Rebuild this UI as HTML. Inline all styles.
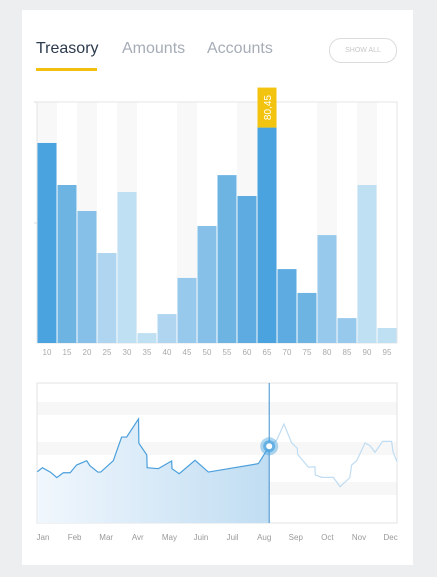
<!DOCTYPE html>
<html><head><meta charset="utf-8">
<style>
body{margin:0;width:437px;height:577px;background:#eceeef;font-family:"Liberation Sans",sans-serif;position:relative;overflow:hidden}
#card{position:absolute;left:22px;top:10px;width:391px;height:555px;background:#fff}
.tab{position:absolute;top:40px;font-size:16px;color:#a6adb6}
#ul{position:absolute;left:36px;top:68px;width:61px;height:3px;background:#f2c00f}
#btn{position:absolute;left:329px;top:38px;border:1px solid #dcdcdc;border-radius:12px;font-size:7px;color:#c8c8c8;text-align:center;line-height:23px;box-sizing:border-box;width:68px;height:25px}
svg{position:absolute;left:0;top:0}
</style></head><body>
<div id="card"></div>
<div class="tab" style="left:36px;color:#2c3a4c">Treasory</div>
<div class="tab" style="left:122px">Amounts</div>
<div class="tab" style="left:207px">Accounts</div>
<div id="ul"></div>
<div id="btn">SHOW ALL</div>
<svg id="s" width="437" height="577"></svg>
<script>
const categories=[10,15,20,25,30,35,40,45,50,55,60,65,70,75,80,85,90,95];
const values=[74.7,59,49.3,33.6,56.4,3.7,10.8,24.3,43.7,62.7,54.9,80.45,27.6,18.7,40.3,9.3,59,5.6];
const barColors=["#4aa3df","#6db4e3","#86c0e8","#afd5f0","#bfdff3","#bfdff3","#afd5f0","#97c9ec","#86c0e8","#6db4e3","#5eabe1","#4aa3df","#5eabe1","#6db4e3","#97c9ec","#97c9ec","#bfdff3","#bfdff3"];
const stripeIdx=[0,2,4,7,10,11,14,16];
const months=["Jan","Feb","Mar","Avr","May","Juin","Juil","Aug","Sep","Oct","Nov","Dec"];
const lineT=[0.1,1.5,3.8,5.5,7.3,9.2,11,13.8,14.7,16.9,17.7,21.2,23.5,24.9,28.2,28.3,30.5,30.6,33.7,37.4,37.5,39.5,43.9,47.6,61.5,64.5,66.6,68.6,70.7,72.3,72.4,75.4,77.2,77.3,79.1,82.3,84.2,86.9,87.4,88.8,91.1,92.5,93.9,96,98.5,98.9,100];
const lineV=[36.6,39.5,36.2,32.4,35.9,35.9,41.4,44.5,40.9,36.4,36.4,44.5,61.4,61.4,74.3,56.9,48.6,39.5,38.8,44.3,38.8,35.2,44.8,36.4,42.4,54.8,59.3,70.7,57.4,53.3,49,39.8,40.2,34.3,32.6,32.6,25.9,32.4,41.4,44.5,57.1,55.2,50.5,58.3,58.3,50.9,43.8];
const splitIndex=25;
const NS="http://www.w3.org/2000/svg";
const s=document.getElementById('s');
function mk(t,a,p){const e=document.createElementNS(NS,t);for(const k in a)e.setAttribute(k,a[k]);(p||s).appendChild(e);return e;}
const bx0=37,bw=20,by0=343,bh=241,bmax=90;
const bxs=i=>bx0+i*bw, bys=v=>by0-v/bmax*bh;
stripeIdx.forEach(i=>{const r=mk('rect',{x:bxs(i),y:102,width:bw,height:bh,fill:'#f8f8f8'});

});
let fr=mk('rect',{x:37,y:102,width:360,height:241,fill:'none',stroke:'#e6e6e6'});


mk('line',{x1:34,y1:223,x2:37,y2:223,stroke:'#ddd'});
mk('line',{x1:34,y1:102,x2:37,y2:102,stroke:'#ddd'});
values.forEach((v,i)=>{
 const r=mk('rect',{x:bxs(i)+0.5,y:bys(v),width:bw-1,height:by0-bys(v),fill:barColors[i]});
 
 
 const t=mk('text',{x:bxs(i)+bw/2,y:355,'font-size':8,fill:'#aaa','text-anchor':'middle'});
 t.textContent=categories[i];
 
 
});
const mi=values.indexOf(Math.max(...values));
const tt=mk('rect',{x:bxs(mi)+0.5,y:bys(values[mi])-40,width:19,height:40,fill:'#f2c40f'});


const ttx=mk('text',{x:0,y:0,'font-size':10,fill:'#fff','text-anchor':'middle',transform:`translate(${bxs(mi)+bw/2+4},${bys(values[mi])-20}) rotate(-90)`});
ttx.textContent=values[mi].toFixed(2).replace('.',',');


const lx0=37,lw=360,ly0=523,lh=140;
const lxs=t=>lx0+t/100*lw, lys=v=>ly0-v/100*lh;
[402,442,482].forEach(y=>mk('rect',{x:37,y:y,width:360,height:13,fill:'#f7f7f7'}));
let lf=mk('rect',{x:37,y:383,width:360,height:140,fill:'none',stroke:'#e3e3e3'});


const defs=mk('defs',{});
const g=mk('linearGradient',{id:'gr',x1:0,x2:1,y1:0,y2:0},defs);
mk('stop',{offset:0,'stop-color':'#f1f7fd'},g);mk('stop',{offset:1,'stop-color':'#c0ddf2'},g);
let past='',fut='';
for(let i=0;i<=splitIndex;i++)past+=(i?'L':'M')+lxs(lineT[i])+','+lys(lineV[i]);
for(let i=splitIndex;i<lineT.length;i++)fut+=(i>splitIndex?'L':'M')+lxs(lineT[i])+','+lys(lineV[i]);
const ar=mk('path',{d:past+`L${lxs(lineT[splitIndex])},${ly0}L${lxs(lineT[0])},${ly0}Z`,fill:'url(#gr)'});


const pl=mk('path',{d:past,fill:'none',stroke:'#4a9fdc','stroke-width':1.2});


const fl=mk('path',{d:fut,fill:'none',stroke:'#bfdcf2','stroke-width':1.2});


const cx=lxs(lineT[splitIndex]),cy=lys(lineV[splitIndex]);
const vl=mk('line',{x1:cx,y1:383,x2:cx,y2:523,stroke:'#3f8fd0'});


mk('circle',{cx:cx,cy:cy,r:9,fill:'#4aa3df','fill-opacity':0.45});
mk('circle',{cx:cx,cy:cy,r:6,fill:'#4aa3df','fill-opacity':0.7});
const hd=mk('circle',{cx:cx,cy:cy,r:3,fill:'#fff'});


months.forEach((m,i)=>{const t=mk('text',{x:43+i*31.6,y:540,'font-size':8,fill:'#999','text-anchor':'middle'});
t.textContent=m;

});
</script>
</body></html>
